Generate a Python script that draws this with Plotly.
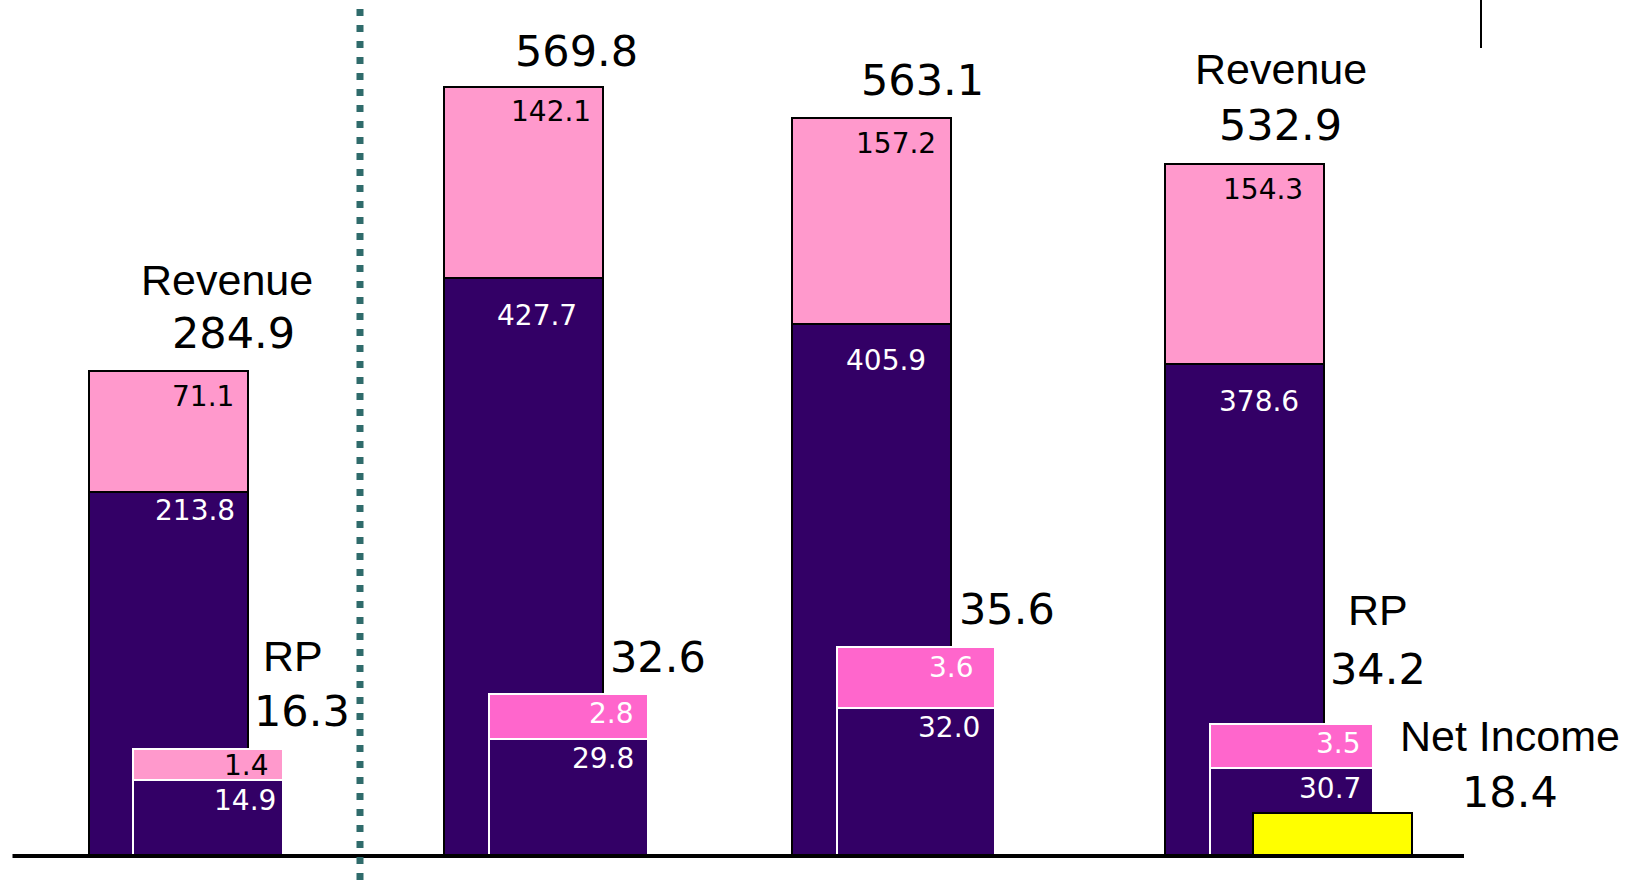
import plotly.graph_objects as go

# ---------------- data ----------------
periods = ["Period 1", "Period 2", "Period 3", "Period 4"]
revenue_core = [213.8, 427.7, 405.9, 378.6]
revenue_other = [71.1, 142.1, 157.2, 154.3]
revenue_total = [284.9, 569.8, 563.1, 532.9]
rp_core = [14.9, 29.8, 32.0, 30.7]
rp_other = [1.4, 2.8, 3.6, 3.5]
rp_total = [16.3, 32.6, 35.6, 34.2]
net_income_period = ["Period 4"]
net_income = [18.4]

rev_word = ["Revenue", "", "", "Revenue"]
rp_word = ["RP", "", "", "RP"]
ni_word = "Net Income"

# ---------------- layout constants ----------------
W, H = 1634, 880
MB = 25
DARK = "#330066"
PINK_L = "#FF99CC"
PINK_H = "#FF66CC"
YELLOW = "#FFFF00"
NUM_FONT = "DejaVu Sans"
WORD_FONT = "Liberation Sans, Arial"

rev_x = [168.3, 523.2, 871.5, 1244.2]
rev_w = 159
rp_x = [208.3, 568.0, 916.2, 1291.5]
rp_w = [150, 159, 158, 163]
ni_x = [1332.8]
ni_w = 159

rev_range = [[0, 503.7], [0, 634.3], [0, 653.3], [0, 659.4]]
rp_range = [[11.48, 50.47], [22.61, 75.6], [23.28, 73.99], [23.86, 91.09]]
ni_range = [0, 377.3]

rp_pink = [PINK_L, PINK_H, PINK_H, PINK_H]
rp_pink_txt = ["black", "white", "white", "white"]

rev_other_dx = [35, 28, 24, 19]
rev_core_dx = [27, 14, 14, 15]
rev_core_dy = [-18, -37, -37, -37]
rp_other_dx = [38, 43, 35, 47]
rp_other_dy = [-16, -20, -20, -20]
rp_core_dx = [37, 35, 33, 38]

rev_lbl_x = [233.3, 576.3, 922.8, 1280.5]
rev_lbl_dy = [38, 36, 38, 39]
rev_word_x = [226.7, 0, 0, 1280.5]
rev_word_gap = [53, 0, 0, 56]
rp_lbl_x = [301.7, 658.3, 1006.7, 1377.6]
rp_lbl_dy = [38, 37, 38, 55]
rp_word_x = [293.3, 0, 0, 1377.6]
rp_word_gap = [55, 0, 0, 59]
ni_lbl_x = 1509.7
ni_lbl_dy = 21
ni_word_gap = 56


def axname(n):
    return "y" if n == 1 else f"y{n}"


fig = go.Figure()
annotations = []

# revenue stacks: axes 1..4
for i in range(4):
    ya = axname(i + 1)
    fig.add_trace(go.Bar(x=[rev_x[i]], y=[revenue_core[i]], width=[rev_w], yaxis=ya,
                         name=periods[i], marker=dict(color=DARK, line=dict(color="black", width=2))))
    fig.add_trace(go.Bar(x=[rev_x[i]], y=[revenue_other[i]], width=[rev_w], yaxis=ya,
                         name=periods[i], marker=dict(color=PINK_L, line=dict(color="black", width=2))))
    annotations.append(dict(x=rev_x[i] + rev_other_dx[i], y=revenue_total[i], xref="x", yref=ya,
                            text=f"{revenue_other[i]:.1f}", showarrow=False, yanchor="middle",
                            yshift=-25, font=dict(family=NUM_FONT, size=28, color="black")))
    annotations.append(dict(x=rev_x[i] + rev_core_dx[i], y=revenue_core[i], xref="x", yref=ya,
                            text=f"{revenue_core[i]:.1f}", showarrow=False, yanchor="middle",
                            yshift=rev_core_dy[i], font=dict(family=NUM_FONT, size=28, color="white")))
    annotations.append(dict(x=rev_lbl_x[i], y=revenue_total[i], xref="x", yref=ya,
                            text=f"{revenue_total[i]:.1f}", showarrow=False, yanchor="middle",
                            yshift=rev_lbl_dy[i], font=dict(family=NUM_FONT, size=43, color="black")))
    if rev_word[i]:
        annotations.append(dict(x=rev_word_x[i], y=revenue_total[i], xref="x", yref=ya,
                                text=rev_word[i], showarrow=False, yanchor="middle",
                                yshift=rev_lbl_dy[i] + rev_word_gap[i],
                                font=dict(family=WORD_FONT, size=43, color="black")))

# RP stacks: axes 5..8
for i in range(4):
    ya = axname(i + 5)
    fig.add_trace(go.Bar(x=[rp_x[i]], y=[rp_core[i]], width=[rp_w[i]], yaxis=ya,
                         name=periods[i], marker=dict(color=DARK, line=dict(color="white", width=2))))
    fig.add_trace(go.Bar(x=[rp_x[i]], y=[rp_other[i]], width=[rp_w[i]], yaxis=ya,
                         name=periods[i], marker=dict(color=rp_pink[i], line=dict(color="white", width=2))))
    annotations.append(dict(x=rp_x[i] + rp_other_dx[i], y=rp_total[i], xref="x", yref=ya,
                            text=f"{rp_other[i]:.1f}", showarrow=False, yanchor="middle",
                            yshift=rp_other_dy[i], font=dict(family=NUM_FONT, size=28, color=rp_pink_txt[i])))
    annotations.append(dict(x=rp_x[i] + rp_core_dx[i], y=rp_core[i], xref="x", yref=ya,
                            text=f"{rp_core[i]:.1f}", showarrow=False, yanchor="middle",
                            yshift=-20, font=dict(family=NUM_FONT, size=28, color="white")))
    annotations.append(dict(x=rp_lbl_x[i], y=rp_total[i], xref="x", yref=ya,
                            text=f"{rp_total[i]:.1f}", showarrow=False, yanchor="middle",
                            yshift=rp_lbl_dy[i], font=dict(family=NUM_FONT, size=43, color="black")))
    if rp_word[i]:
        annotations.append(dict(x=rp_word_x[i], y=rp_total[i], xref="x", yref=ya,
                                text=rp_word[i], showarrow=False, yanchor="middle",
                                yshift=rp_lbl_dy[i] + rp_word_gap[i],
                                font=dict(family=WORD_FONT, size=43, color="black")))

# Net income: axis 9
fig.add_trace(go.Bar(x=ni_x, y=net_income, width=[ni_w], yaxis="y9", name=net_income_period[0],
                     marker=dict(color=YELLOW, line=dict(color="black", width=2))))
annotations.append(dict(x=ni_lbl_x, y=net_income[0], xref="x", yref="y9",
                        text=f"{net_income[0]:.1f}", showarrow=False, yanchor="middle",
                        yshift=ni_lbl_dy, font=dict(family=NUM_FONT, size=43, color="black")))
annotations.append(dict(x=ni_lbl_x, y=net_income[0], xref="x", yref="y9",
                        text=ni_word, showarrow=False, yanchor="middle",
                        yshift=ni_lbl_dy + ni_word_gap, font=dict(family=WORD_FONT, size=43, color="black")))

layout = dict(
    width=W, height=H,
    margin=dict(l=0, r=0, t=0, b=MB, pad=0),
    paper_bgcolor="white", plot_bgcolor="white",
    barmode="stack", showlegend=False,
    xaxis=dict(range=[0, W], visible=False, fixedrange=True),
    annotations=annotations,
    shapes=[
        # baseline
        dict(type="line", xref="paper", yref="paper", x0=12.5 / W, x1=1464 / W,
             y0=-1.0 / (H - MB), y1=-1.0 / (H - MB), line=dict(color="black", width=4)),
        # dotted divider
        dict(type="line", xref="paper", yref="paper", x0=360 / W, x1=360 / W,
             y0=-MB / (H - MB), y1=1 - 6 / (H - MB), line=dict(color="#2F6B6B", width=7, dash="7px,9px")),
        # small vertical rule top right
        dict(type="line", xref="paper", yref="paper", x0=1481 / W, x1=1481 / W,
             y0=1 - 48 / (H - MB), y1=1, line=dict(color="black", width=2)),
    ],
)
ranges = rev_range + rp_range + [ni_range]
for n, rg in enumerate(ranges, start=1):
    key = "yaxis" if n == 1 else f"yaxis{n}"
    ax = dict(range=rg, visible=False, fixedrange=True, showgrid=False, zeroline=False)
    if n > 1:
        ax.update(overlaying="y", anchor="x")
    layout[key] = ax
fig.update_layout(**layout)

fig.write_html("out.html", config={"displayModeBar": False},
               post_script="document.body.style.margin='0';document.body.style.overflow='hidden';")
